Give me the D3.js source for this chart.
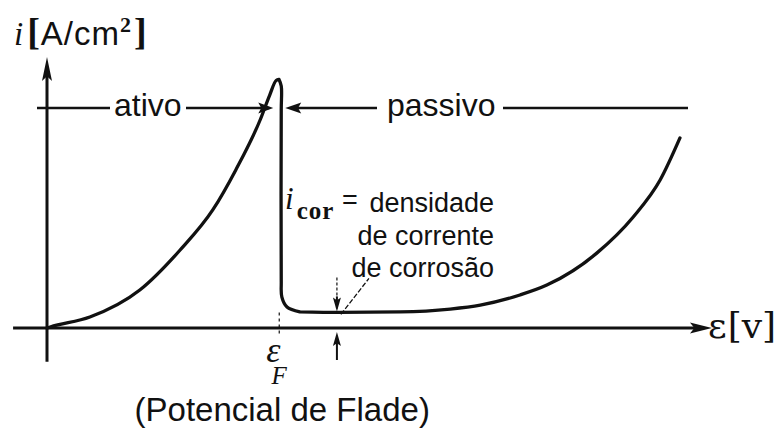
<!DOCTYPE html>
<html>
<head>
<meta charset="utf-8">
<script src="https://cdn.jsdelivr.net/npm/d3@7/dist/d3.min.js"></script>
<style>
  html, body { margin: 0; padding: 0; background: #fff; }
  svg { display: block; }
  .sans { font-family: "Liberation Sans", Arial, sans-serif; }
  .serif { font-family: "Liberation Serif", "Times New Roman", serif; }
</style>
</head>
<body>
<svg id="chart" width="777" height="430"></svg>
<script>
// Polarisation curve: electrode potential (arbitrary units) vs current density (arbitrary units)
// Active branch, up to the current peak
const activePotential = [0, 0.5, 6.7, 14.5, 20.8, 25.9, 29.5, 33.3, 34.8, 35.8, 36.25];
const activeCurrent = [0, 0.4, 4.2, 14.6, 30.0, 45.4, 60.8, 80.0, 89.6, 95.2, 95.6];
// Sudden drop at the Flade potential
const dropPotential = [36.25, 36.6, 36.6, 36.6, 36.7, 37.5, 39.5];
const dropCurrent = [95.6, 93.1, 83.8, 18.5, 11.9, 8.1, 6.2];
// Passive branch and the final rise
const passivePotential = [39.5, 45.8, 55.2, 63.0, 67.7, 73.9, 78.1, 85.9, 91.6, 95.8, 98.9];
const passiveCurrent = [6.2, 6.0, 6.2, 7.3, 8.8, 12.7, 16.5, 28.8, 42.7, 56.9, 73.1];

// Key points on the curve
const fladePotential = [36.6];
const corrosionPotential = [45.3];
const corrosionCurrent = [6.0];

// Region labels and the level of their bracket line
const regionLabels = ["ativo", "passivo"];
const bracketLevel = [84.6];

// Axis extents in data units
const xAxisExtent = [-5.3, 103.9];
const yAxisExtent = [-13, 104.2];

// Text
const yAxisTitle = ["i", "[", "A/cm", "2", "]"];
const xAxisTitle = ["ε", "[v]"];
const fladeSymbol = ["ε", "F"];
const fladeCaption = ["(Potencial de Flade)"];
const corrSymbol = ["i", "cor", "="];
const corrDescription = ["densidade", "de corrente", "de corrosão"];

const svg = d3.select("#chart");
const x = d3.scaleLinear().domain([0, 100]).range([47, 687]);
const y = d3.scaleLinear().domain([0, 100]).range([328, 68]);

const ink = "#111";

function arrowHead(g, tipX, tipY, dir, len, half) {
  let pts;
  if (dir === "right") pts = [[tipX, tipY], [tipX - len, tipY - half], [tipX - len * 0.8, tipY], [tipX - len, tipY + half]];
  if (dir === "left") pts = [[tipX, tipY], [tipX + len, tipY - half], [tipX + len * 0.8, tipY], [tipX + len, tipY + half]];
  if (dir === "up") pts = [[tipX, tipY], [tipX - half, tipY + len], [tipX, tipY + len * 0.8], [tipX + half, tipY + len]];
  if (dir === "down") pts = [[tipX, tipY], [tipX - half, tipY - len], [tipX, tipY - len * 0.8], [tipX + half, tipY - len]];
  g.append("path").attr("d", d3.line()(pts) + "Z").attr("fill", ink);
}

// Axes
const axes = svg.append("g");
axes.append("line")
  .attr("x1", x(xAxisExtent[0])).attr("x2", x(xAxisExtent[1]) - 10)
  .attr("y1", y(0)).attr("y2", y(0))
  .attr("stroke", ink).attr("stroke-width", 3);
arrowHead(axes, x(xAxisExtent[1]), y(0), "right", 22, 5.5);
axes.append("line")
  .attr("x1", x(0)).attr("x2", x(0))
  .attr("y1", y(yAxisExtent[0])).attr("y2", y(yAxisExtent[1]) + 10)
  .attr("stroke", ink).attr("stroke-width", 3);
arrowHead(axes, x(0), y(yAxisExtent[1]), "up", 24, 5);

// Curve, built from its three branches
const toPts = (es, is) => es.map((e, k) => [e, is[k]]);
const smooth = d3.line().x(d => x(d[0])).y(d => y(d[1])).curve(d3.curveMonotoneX);
const bend = d3.line().x(d => x(d[0])).y(d => y(d[1])).curve(d3.curveCatmullRom.alpha(0.5));
const curvePath =
  smooth(toPts(activePotential, activeCurrent)) +
  bend(toPts(dropPotential, dropCurrent)) +
  smooth(toPts(passivePotential, passiveCurrent));
svg.append("path")
  .attr("d", curvePath)
  .attr("fill", "none").attr("stroke", ink).attr("stroke-width", 3.3)
  .attr("stroke-linejoin", "round").attr("stroke-linecap", "round");

// Flade potential marker below the curve
svg.append("line")
  .attr("x1", x(fladePotential[0]) - 2).attr("x2", x(fladePotential[0]) - 2)
  .attr("y1", y(corrosionCurrent[0])).attr("y2", y(0) + 6)
  .attr("stroke", ink).attr("stroke-width", 1.2).attr("stroke-dasharray", "3,3");

// Active / passive bracket
const by = y(bracketLevel[0]);
const br = svg.append("g").attr("stroke", ink).attr("stroke-width", 2.6);
br.append("line").attr("x1", 37).attr("x2", 110).attr("y1", by).attr("y2", by);
br.append("line").attr("x1", 186).attr("x2", x(fladePotential[0]) - 12).attr("y1", by).attr("y2", by);
br.append("line").attr("x1", x(fladePotential[0]) + 10).attr("x2", 377).attr("y1", by).attr("y2", by);
br.append("line").attr("x1", 503).attr("x2", 688).attr("y1", by).attr("y2", by);
arrowHead(svg, x(fladePotential[0]) - 8, by, "right", 15, 5.5);
arrowHead(svg, x(fladePotential[0]) + 4, by, "left", 16, 5.5);

svg.append("text").attr("class", "sans").attr("x", 114).attr("y", by + 8)
  .attr("font-size", 32).attr("fill", ink).text(regionLabels[0]);
svg.append("text").attr("class", "sans").attr("x", 387).attr("y", by + 8)
  .attr("font-size", 32).attr("fill", ink).text(regionLabels[1]);

// Corrosion current density indicator
const cx = x(corrosionPotential[0]);
const cy = y(corrosionCurrent[0]);
svg.append("line").attr("x1", cx).attr("x2", cx).attr("y1", cy - 35).attr("y2", cy - 14)
  .attr("stroke", ink).attr("stroke-width", 1.2).attr("stroke-dasharray", "3,2");
svg.append("line").attr("x1", cx).attr("x2", cx).attr("y1", cy - 16).attr("y2", cy - 4)
  .attr("stroke", ink).attr("stroke-width", 2);
arrowHead(svg, cx, cy - 1, "down", 14, 4);
svg.append("line").attr("x1", cx).attr("x2", cx).attr("y1", y(0) + 12).attr("y2", y(0) + 32)
  .attr("stroke", ink).attr("stroke-width", 2);
arrowHead(svg, cx, y(0) + 4, "up", 14, 4);
svg.append("line").attr("x1", cx + 4).attr("x2", cx + 32).attr("y1", cy + 2).attr("y2", cy - 34)
  .attr("stroke", ink).attr("stroke-width", 1.3).attr("stroke-dasharray", "5,2");

// i_cor label
const lab = svg.append("g");
const sym = lab.append("text").attr("x", 285).attr("y", 209).attr("fill", ink);
sym.append("tspan").attr("class", "serif").attr("font-size", 31).attr("font-style", "italic").text(corrSymbol[0]);
sym.append("tspan").attr("class", "serif").attr("dx", 3).attr("dy", 10).attr("font-size", 25)
  .attr("font-weight", "bold").attr("letter-spacing", 1).text(corrSymbol[1]);
lab.append("text").attr("class", "sans").attr("x", 342).attr("y", 209)
  .attr("font-size", 27).attr("fill", ink).text(corrSymbol[2]);
corrDescription.forEach((t, k) => {
  lab.append("text").attr("class", "sans").attr("x", 494).attr("y", 212 + k * 32.5)
    .attr("text-anchor", "end").attr("font-size", 27).attr("fill", ink).text(t);
});

// Flade potential label
const fx = x(fladePotential[0]);
const fl = svg.append("text").attr("class", "serif").attr("x", fx - 15).attr("y", 362).attr("fill", ink)
  .attr("font-style", "italic");
fl.append("tspan").attr("font-size", 36).text(fladeSymbol[0]);
fl.append("tspan").attr("font-size", 25).attr("dx", -9).attr("dy", 22).text(fladeSymbol[1]);
svg.append("text").attr("class", "sans").attr("x", fx + 1).attr("y", 421)
  .attr("text-anchor", "middle").attr("font-size", 33).attr("fill", ink).text(fladeCaption[0]);

// Axis titles
const yt = svg.append("text").attr("x", 14).attr("y", 45).attr("font-size", 33).attr("fill", ink);
yt.append("tspan").attr("class", "serif").attr("font-style", "italic").text(yAxisTitle[0]);
yt.append("tspan").attr("class", "serif").attr("dx", 4).attr("font-size", 38).attr("font-weight", "bold").text(yAxisTitle[1]);
yt.append("tspan").attr("class", "sans").attr("dx", 1).attr("letter-spacing", 1).text(yAxisTitle[2]);
yt.append("tspan").attr("class", "serif").attr("font-size", 22).attr("dy", -13).attr("font-weight", "bold").text(yAxisTitle[3]);
yt.append("tspan").attr("class", "serif").attr("font-size", 38).attr("dy", 13).attr("dx", 3).attr("font-weight", "bold").text(yAxisTitle[4]);

const xt = svg.append("text").attr("x", 708).attr("y", 338).attr("font-size", 36).attr("fill", ink)
  .attr("font-family", "'DejaVu Serif', serif");
xt.append("tspan").text(xAxisTitle[0]);
xt.append("tspan").attr("dx", 1).text(xAxisTitle[1]);
</script>
</body>
</html>
